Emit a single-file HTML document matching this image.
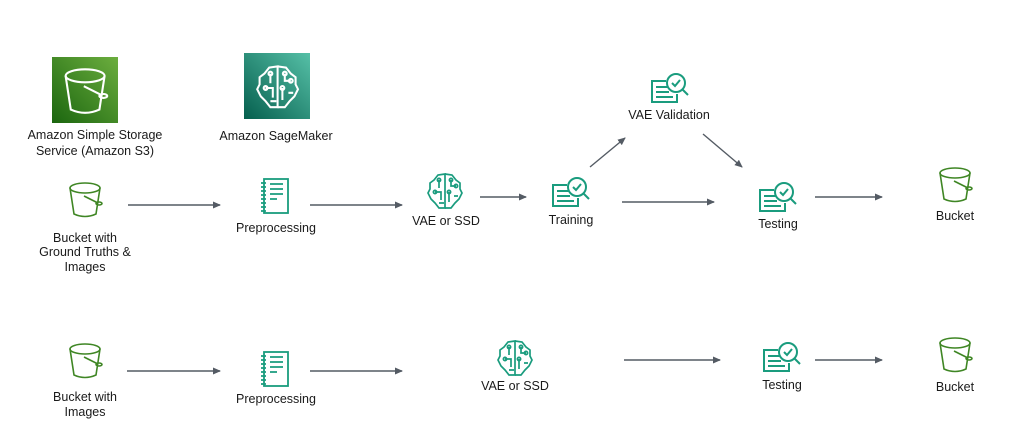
<!DOCTYPE html>
<html><head><meta charset="utf-8"><style>
html,body{margin:0;padding:0;background:#fff;}
svg{display:block;}
text{font-family:"Liberation Sans",Arial,sans-serif;font-size:12.5px;fill:#1a1a1a;text-anchor:middle;}
</style></head><body>
<svg width="1024" height="441" viewBox="0 0 1024 441" xmlns="http://www.w3.org/2000/svg">
<defs>
<linearGradient id="gs3" x1="0" y1="1" x2="1" y2="0"><stop offset="0" stop-color="#1b660f"/><stop offset="1" stop-color="#6cae3e"/></linearGradient>
<linearGradient id="gsm" x1="0" y1="1" x2="1" y2="0"><stop offset="0" stop-color="#055f4e"/><stop offset="1" stop-color="#56c0a7"/></linearGradient>
<marker id="ar" markerWidth="8" markerHeight="8" refX="7" refY="4" orient="auto" markerUnits="userSpaceOnUse"><path d="M0,0.5 L8,4 L0,7.5 Z" fill="#545b64"/></marker>
<g id="bucket" fill="none" stroke-width="1.6">
<ellipse cx="17" cy="6" rx="15" ry="5"/>
<path d="M2,6 L6,32 Q17,37 28,32 L32,6"/>
<path d="M16,14 L30,21"/><ellipse cx="31" cy="21.5" rx="3" ry="1.5"/>
</g>
<g id="note" fill="none" stroke="#1a9c7e" stroke-width="1.8">
<rect x="4" y="1" width="24" height="34"/>
<path d="M1,5h5M1,9h5M1,13h5M1,17h5M1,21h5M1,25h5M1,29h5M1,33h5"/>
<path d="M10,6h13M10,11h13M10,16h13M10,21h7"/>
</g>
<g id="test" fill="none" stroke="#1a9c7e" stroke-width="2">
<path d="M15,9 H1 V30 H26 V22"/>
<path d="M5,15h13M5,20h13M5,25h17"/>
<circle cx="25" cy="11" r="9" fill="#fff"/>
<path d="M21,11 l3,3 l5,-6"/>
<path d="M31,17 l6,6"/>
</g>
<g id="brain" fill="none" stroke-width="1.7">
<path d="M18,2 L11,3 L7,8 L3,11 L3,17 L1,21 L4,27 L8,31 L12,36 L18,36 Z"/>
<path d="M18,2 L25,3 L29,8 L33,11 L33,17 L35,21 L32,27 L28,31 L24,36 L18,36"/>
<path d="M12,8 v8 M8,20 h6 v8 M12,31 h5 M24,8 v6 h5 M22,20 v10 M27,24 h4"/>
<circle cx="12" cy="8" r="1.6"/><circle cx="24" cy="8" r="1.6"/><circle cx="8" cy="20" r="1.6"/><circle cx="22" cy="20" r="1.6"/><circle cx="29" cy="14" r="1.6"/>
</g>
</defs>

<!-- header logos -->
<rect x="52" y="57" width="66" height="66" fill="url(#gs3)"/>
<g transform="translate(63,68) scale(1.3)" stroke="#fff"><use href="#bucket"/></g>
<text x="95" y="139">Amazon Simple Storage</text>
<text x="95" y="155">Service (Amazon S3)</text>

<rect x="244" y="53" width="66" height="66" fill="url(#gsm)"/>
<g transform="translate(256,64) scale(1.2)" stroke="#fff"><use href="#brain"/></g>
<text x="276" y="140">Amazon SageMaker</text>

<!-- row 1 -->
<g transform="translate(68,182)" stroke="#3f8624"><use href="#bucket"/></g>
<text x="85" y="242">Bucket with</text>
<text x="85" y="256">Ground Truths &amp;</text>
<text x="85" y="271">Images</text>
<line x1="128" y1="205" x2="220" y2="205" stroke="#545b64" stroke-width="1.4" marker-end="url(#ar)"/>
<g transform="translate(260,178)"><use href="#note"/></g>
<text x="276" y="232">Preprocessing</text>
<line x1="310" y1="205" x2="402" y2="205" stroke="#545b64" stroke-width="1.4" marker-end="url(#ar)"/>
<g transform="translate(427,172)" stroke="#1a9c7e"><use href="#brain"/></g>
<text x="446" y="225">VAE or SSD</text>
<line x1="480" y1="197" x2="526" y2="197" stroke="#545b64" stroke-width="1.4" marker-end="url(#ar)"/>
<g transform="translate(552,176)"><use href="#test"/></g>
<text x="571" y="224">Training</text>
<line x1="590" y1="167" x2="625" y2="138" stroke="#545b64" stroke-width="1.4" marker-end="url(#ar)"/>
<g transform="translate(651,72)"><use href="#test"/></g>
<text x="669" y="119">VAE Validation</text>
<line x1="703" y1="134" x2="742" y2="167" stroke="#545b64" stroke-width="1.4" marker-end="url(#ar)"/>
<line x1="622" y1="202" x2="714" y2="202" stroke="#545b64" stroke-width="1.4" marker-end="url(#ar)"/>
<g transform="translate(759,181)"><use href="#test"/></g>
<text x="778" y="228">Testing</text>
<line x1="815" y1="197" x2="882" y2="197" stroke="#545b64" stroke-width="1.4" marker-end="url(#ar)"/>
<g transform="translate(938,167)" stroke="#3f8624"><use href="#bucket"/></g>
<text x="955" y="220">Bucket</text>

<!-- row 2 -->
<g transform="translate(68,343)" stroke="#3f8624"><use href="#bucket"/></g>
<text x="85" y="401">Bucket with</text>
<text x="85" y="416">Images</text>
<line x1="127" y1="371" x2="220" y2="371" stroke="#545b64" stroke-width="1.4" marker-end="url(#ar)"/>
<g transform="translate(260,351)"><use href="#note"/></g>
<text x="276" y="403">Preprocessing</text>
<line x1="310" y1="371" x2="402" y2="371" stroke="#545b64" stroke-width="1.4" marker-end="url(#ar)"/>
<g transform="translate(497,339)" stroke="#1a9c7e"><use href="#brain"/></g>
<text x="515" y="390">VAE or SSD</text>
<line x1="624" y1="360" x2="720" y2="360" stroke="#545b64" stroke-width="1.4" marker-end="url(#ar)"/>
<g transform="translate(763,341)"><use href="#test"/></g>
<text x="782" y="389">Testing</text>
<line x1="815" y1="360" x2="882" y2="360" stroke="#545b64" stroke-width="1.4" marker-end="url(#ar)"/>
<g transform="translate(938,337)" stroke="#3f8624"><use href="#bucket"/></g>
<text x="955" y="391">Bucket</text>
</svg>
</body></html>
